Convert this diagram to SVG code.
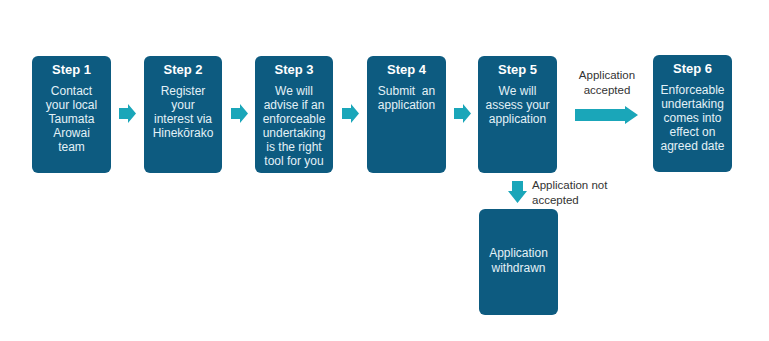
<svg xmlns="http://www.w3.org/2000/svg" width="769" height="341" viewBox="0 0 769 341">
<defs>
<style>
.box{fill:#0D5B80}
.hd{font-family:"Liberation Sans",Arial,sans-serif;font-size:13px;font-weight:bold;fill:#FFFFFF;text-anchor:middle}
.bt{font-family:"Liberation Sans",Arial,sans-serif;font-size:12px;fill:#E3F1F7;text-anchor:middle}
.lb{font-family:"Liberation Sans",Arial,sans-serif;font-size:11.5px;fill:#333333}
.arr{fill:#1AA6B9}
</style>
</defs>
<rect width="769" height="341" fill="#FFFFFF"/>
<g id="step1">
<rect class="box" x="32" y="56" width="79" height="117" rx="6"/>
<text class="hd" x="71.5" y="74">Step 1</text>
<text class="bt" x="71.5" y="95">Contact</text>
<text class="bt" x="71.5" y="109">your local</text>
<text class="bt" x="71.5" y="123">Taumata</text>
<text class="bt" x="71.5" y="137">Arowai</text>
<text class="bt" x="71.5" y="151">team</text>
</g>
<g id="step2">
<rect class="box" x="144" y="56" width="78" height="117" rx="6"/>
<text class="hd" x="183" y="74">Step 2</text>
<text class="bt" x="183" y="95">Register</text>
<text class="bt" x="183" y="109">your</text>
<text class="bt" x="183" y="123">interest via</text>
<text class="bt" x="183" y="137">Hinekōrako</text>
</g>
<g id="step3">
<rect class="box" x="255" y="56" width="78" height="117" rx="6"/>
<text class="hd" x="294" y="74">Step 3</text>
<text class="bt" x="294" y="95">We will</text>
<text class="bt" x="294" y="109">advise if an</text>
<text class="bt" x="294" y="123">enforceable</text>
<text class="bt" x="294" y="137">undertaking</text>
<text class="bt" x="294" y="151">is the right</text>
<text class="bt" x="294" y="165">tool for you</text>
</g>
<g id="step4">
<rect class="box" x="367" y="56" width="79" height="117" rx="6"/>
<text class="hd" x="406.5" y="74">Step 4</text>
<text class="bt" x="406.5" y="95" xml:space="preserve">Submit  an</text>
<text class="bt" x="406.5" y="109">application</text>
</g>
<g id="step5">
<rect class="box" x="478" y="56" width="79" height="117" rx="6"/>
<text class="hd" x="517.5" y="74">Step 5</text>
<text class="bt" x="517.5" y="95">We will</text>
<text class="bt" x="517.5" y="109">assess your</text>
<text class="bt" x="517.5" y="123">application</text>
</g>
<g id="step6">
<rect class="box" x="653" y="55" width="79" height="117" rx="6"/>
<text class="hd" x="692.5" y="73">Step 6</text>
<text class="bt" x="692.5" y="94">Enforceable</text>
<text class="bt" x="692.5" y="108">undertaking</text>
<text class="bt" x="692.5" y="122">comes into</text>
<text class="bt" x="692.5" y="136">effect on</text>
<text class="bt" x="692.5" y="150">agreed date</text>
</g>
<g id="withdrawn">
<rect class="box" x="479" y="209" width="79" height="106" rx="6"/>
<text class="bt" x="518.5" y="257">Application</text>
<text class="bt" x="518.5" y="272">withdrawn</text>
</g>
<g id="connectors">
<polygon class="arr" points="119,108 128,108 128,104 136,113.5 128,123 128,119 119,119"/>
<polygon class="arr" points="231,108 240,108 240,104 248,113.5 240,123 240,119 231,119"/>
<polygon class="arr" points="342,108 351,108 351,104 359,113.5 351,123 351,119 342,119"/>
<polygon class="arr" points="454,108 463,108 463,104 471,113.5 463,123 463,119 454,119"/>
<polygon class="arr" points="575,109 625,109 625,106 638,115 625,124 625,121 575,121"/>
<polygon class="arr" points="512,181 523,181 523,191 527,191 517.5,203 508,191 512,191"/>
<text class="lb" x="607" y="79" text-anchor="middle">Application</text>
<text class="lb" x="607" y="94" text-anchor="middle">accepted</text>
<text class="lb" x="532" y="189">Application not</text>
<text class="lb" x="532" y="204">accepted</text>
</g>
</svg>
